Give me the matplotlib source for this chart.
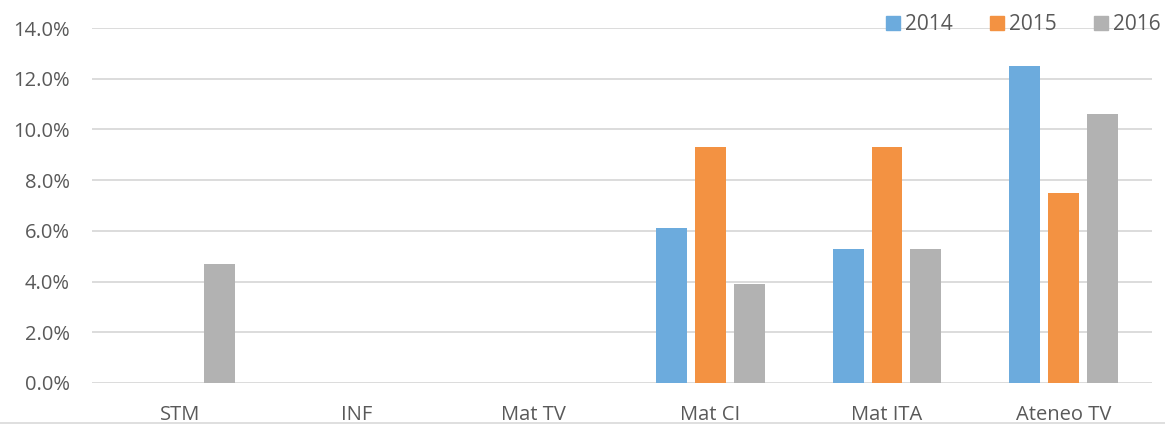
import matplotlib
matplotlib.use("Agg")
import matplotlib.pyplot as plt
from matplotlib.ticker import FuncFormatter, MultipleLocator
from matplotlib.lines import Line2D
import numpy as np

categories = ["STM", "INF", "Mat TV", "Mat CI", "Mat ITA", "Ateneo TV"]
years = ["2014", "2015", "2016"]
values_2014 = [0.0, 0.0, 0.0, 6.1, 5.3, 12.5]
values_2015 = [0.0, 0.0, 0.0, 9.3, 9.3, 7.5]
values_2016 = [4.7, 0.0, 0.0, 3.9, 5.3, 10.6]
colors = ["#6CABDD", "#F39242", "#B2B2B2"]

plt.rcParams["font.family"] = ["Open Sans", "DejaVu Sans"]
text_color = "#595959"
grid_color = "#D9D9D9"

W, H = 1165, 424
fig = plt.figure(figsize=(W / 100, H / 100), dpi=100)
ax = fig.add_axes([92 / W, (H - 383) / H, (1152 - 92) / W, (383 - 28) / H])

x = np.arange(len(categories))
step = 0.22
width = 0.175
series = [values_2014, values_2015, values_2016]
for i, (vals, col, lab) in enumerate(zip(series, colors, years)):
    ax.bar(x + (i - 1) * step, vals, width=width, color=col, label=lab, zorder=3)

ax.set_xlim(-0.5, len(categories) - 0.5)
ax.set_ylim(0, 14)
ax.yaxis.set_major_locator(MultipleLocator(2))
ax.yaxis.set_major_formatter(FuncFormatter(lambda v, p: f"{v:.1f}%"))
ax.set_xticks(x)
ax.set_xticklabels(categories)
ax.grid(axis="y", color=grid_color, linewidth=1.3, zorder=0)
for s in ax.spines.values():
    s.set_visible(False)
ax.tick_params(axis="both", length=0, colors=text_color)
ax.tick_params(axis="x", pad=16, labelsize=14.5)
ax.tick_params(axis="y", pad=16, labelsize=14.5)

handles = [Line2D([], [], marker="s", linestyle="none", markersize=10,
                  markerfacecolor=c, markeredgecolor=c) for c in colors]
leg = fig.legend(handles, years, loc="center left",
                 bbox_to_anchor=(874 / W, (H - 25) / H), ncol=3, frameon=False,
                 fontsize=15, handletextpad=0.1, columnspacing=1.6,
                 handlelength=1.0, borderaxespad=0)
for t in leg.get_texts():
    t.set_color(text_color)

fig.add_artist(Line2D([0, 1], [1.5 / H, 1.5 / H], color=grid_color, linewidth=1.2))

fig.savefig("out.png", dpi=100, facecolor="white")
